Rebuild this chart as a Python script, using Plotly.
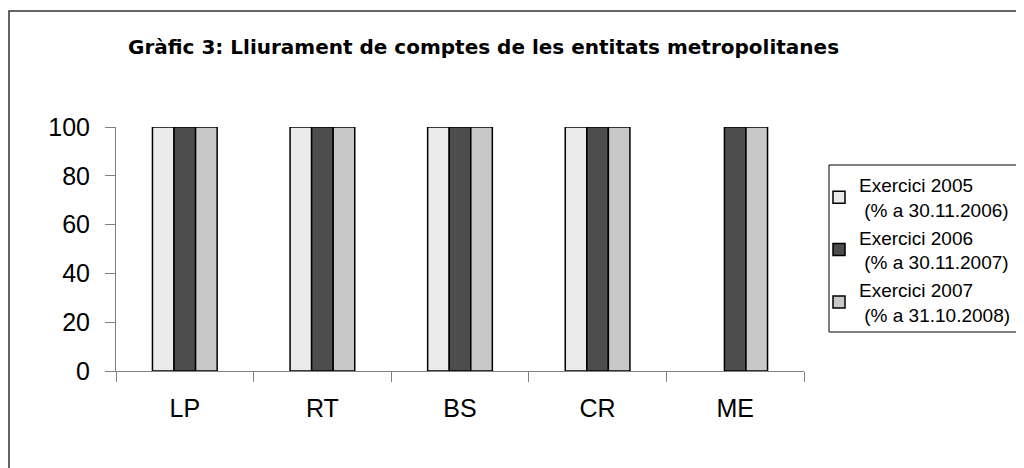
import plotly.graph_objects as go

categories = ["LP", "RT", "BS", "CR", "ME"]
series_names = [
    "Exercici 2005<br>\u00a0(% a 30.11.2006)",
    "Exercici 2006<br>\u00a0(% a 30.11.2007)",
    "Exercici 2007<br>\u00a0(% a 31.10.2008)",
]
values_2005 = [100, 100, 100, 100, None]
values_2006 = [100, 100, 100, 100, 100]
values_2007 = [100, 100, 100, 100, 100]
colors = ["#ebebeb", "#4d4d4d", "#c8c8c8"]
y_ticks = [0, 20, 40, 60, 80, 100]
title = "Gràfic 3: Lliurament de comptes de les entitats metropolitanes"

# page has an 8px body margin: canvas coords = screen coords - 8
OFF = 8
W, H = 1016, 460
L, R, T, B = 108, 220, 119, 97
pw, ph = W - L - R, H - T - B

def px_x(x):
    return (x - OFF - L) / pw

def px_y(y):
    return (H - B - (y - OFF)) / ph

fig = go.Figure()
for name, vals, col in zip(series_names, [values_2005, values_2006, values_2007], colors):
    fig.add_trace(go.Bar(
        x=categories, y=vals, name=name,
        marker=dict(color=col, line=dict(color="black", width=1.5)),
    ))

fig.update_layout(
    width=W, height=H,
    margin=dict(l=L, r=R, t=T, b=B, autoexpand=False),
    paper_bgcolor="white", plot_bgcolor="white",
    barmode="group", bargap=0.53, bargroupgap=0,
    font=dict(family="Arial, Liberation Sans, sans-serif", color="black"),
    showlegend=True,
    legend=dict(
        x=px_x(819), y=px_y(166), xanchor="left", yanchor="top",
        borderwidth=0, bgcolor="rgba(0,0,0,0)",
        font=dict(size=19, color="black"),
        itemwidth=30, tracegroupgap=0,
    ),
    xaxis=dict(
        showline=True, linecolor="#808080", linewidth=1,
        ticks="outside", ticklen=10, tickcolor="#808080", tickwidth=1,
        tickson="boundaries", showgrid=False, zeroline=False,
        tickfont=dict(size=25), ticklabelstandoff=15,
    ),
    yaxis=dict(
        range=[0, 100], tickvals=y_ticks,
        showline=True, linecolor="#808080", linewidth=1,
        ticks="outside", ticklen=10, tickcolor="#808080", tickwidth=1,
        showgrid=False, zeroline=False,
        tickfont=dict(size=25), ticklabelstandoff=10,
    ),
    annotations=[dict(
        text="<b>" + title + "</b>", x=px_x(484), y=px_y(47),
        xref="paper", yref="paper", xanchor="center", yanchor="middle",
        showarrow=False, font=dict(size=20, color="black", family="DejaVu Sans"),
    )],
    shapes=[
        dict(
            type="rect", xref="paper", yref="paper",
            x0=px_x(9), x1=px_x(1040), y0=px_y(480), y1=px_y(11),
            line=dict(color="#333333", width=1.5), fillcolor="rgba(0,0,0,0)",
            layer="below",
        ),
        dict(
            type="rect", xref="paper", yref="paper",
            x0=px_x(829), x1=px_x(1040), y0=px_y(332), y1=px_y(165),
            line=dict(color="black", width=1), fillcolor="white",
            layer="below",
        ),
    ],
)

fig.write_html("out.html")
